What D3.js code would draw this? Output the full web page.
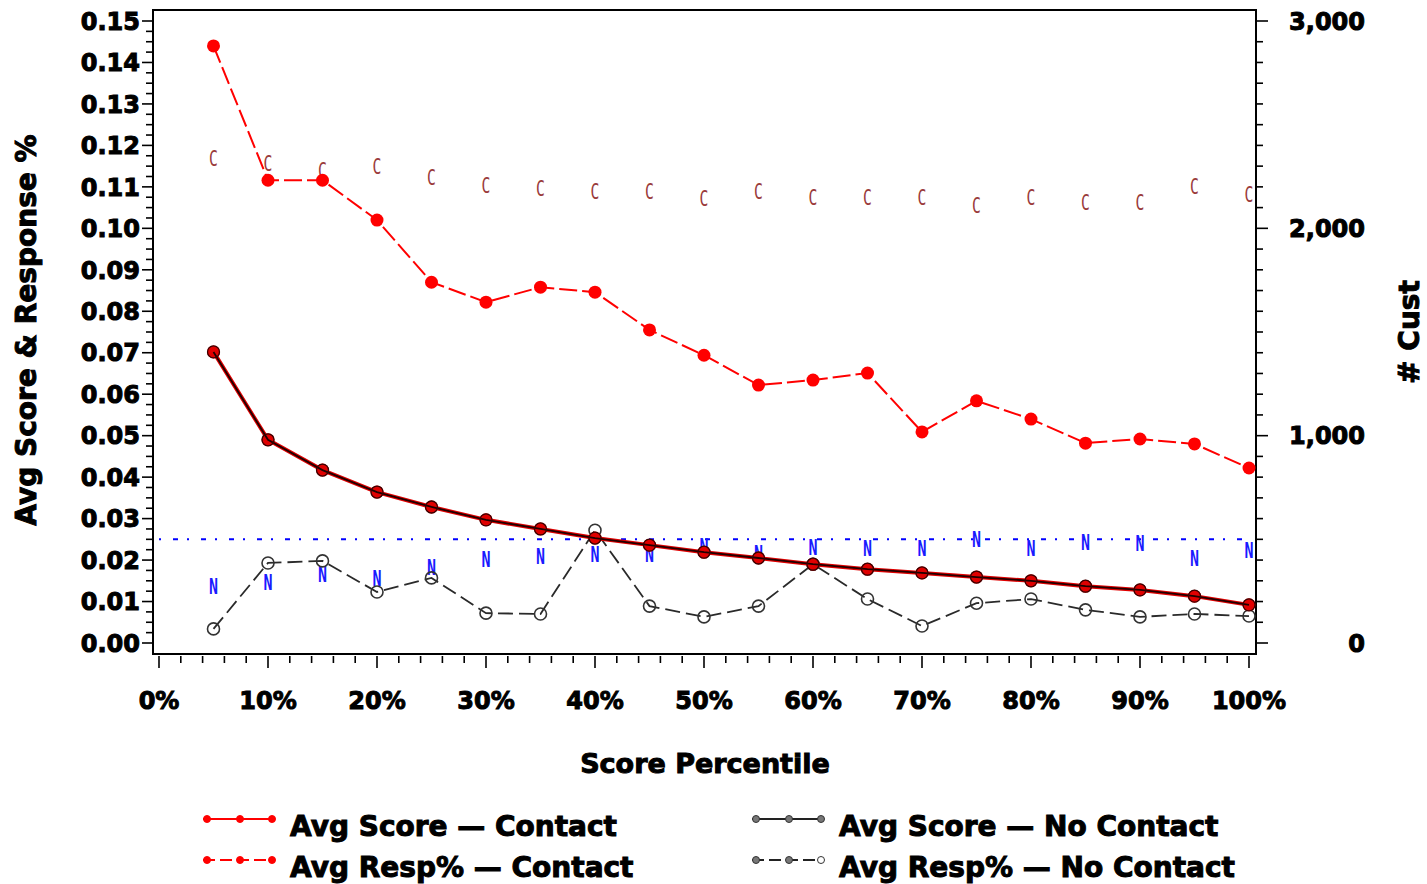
<!DOCTYPE html>
<html>
<head>
<meta charset="utf-8">
<script src="https://cdn.jsdelivr.net/npm/d3@7/dist/d3.min.js"></script>
<style>
  html, body { margin: 0; padding: 0; background: #fff; }
  svg { display: block; }
  .lbl { font-family: "DejaVu Sans", sans-serif; font-weight: bold; fill: #000; stroke: #000; stroke-width: 1px; }
</style>
</head>
<body>
<svg id="chart" width="1427" height="884"></svg>
<script>
// Score percentile bins
const percentile = [5, 10, 15, 20, 25, 30, 35, 40, 45, 50, 55, 60, 65, 70, 75, 80, 85, 90, 95, 100];

// Average model score per bin (contacted and non-contacted groups)
const avgScoreContact   = [0.0702, 0.0490, 0.0417, 0.0364, 0.0328, 0.0297, 0.0275, 0.0253, 0.0236, 0.0219,
                           0.0205, 0.0190, 0.0178, 0.0169, 0.0159, 0.0150, 0.0137, 0.0128, 0.0113, 0.0092];
const avgScoreNoContact = [0.0702, 0.0490, 0.0417, 0.0364, 0.0328, 0.0297, 0.0275, 0.0253, 0.0236, 0.0219,
                           0.0205, 0.0190, 0.0178, 0.0169, 0.0159, 0.0150, 0.0137, 0.0128, 0.0113, 0.0092];

// Average response rate per bin
const avgRespContact   = [0.1440, 0.1116, 0.1116, 0.1020, 0.0870, 0.0822, 0.0858, 0.0846, 0.0755, 0.0694,
                          0.0622, 0.0634, 0.0651, 0.0509, 0.0584, 0.0540, 0.0482, 0.0492, 0.0480, 0.0422];
const avgRespNoContact = [0.0034, 0.0193, 0.0198, 0.0123, 0.0157, 0.0072, 0.0070, 0.0272, 0.0089, 0.0063,
                          0.0089, 0.0190, 0.0106, 0.0041, 0.0096, 0.0106, 0.0080, 0.0063, 0.0070, 0.0065];

// Customer counts per bin (right axis)
const custContact   = [2335, 2315, 2277, 2296, 2243, 2205, 2190, 2180, 2180, 2142,
                       2176, 2147, 2151, 2151, 2108, 2151, 2123, 2127, 2200, 2161];
const custNoContact = [275, 295, 333, 314, 367, 405, 420, 430, 430, 468,
                       434, 463, 459, 459, 502, 459, 487, 483, 410, 449];

// Horizontal reference level
const refLevel = 0.025;

// Axis ticks
const xTicks = [0, 10, 20, 30, 40, 50, 60, 70, 80, 90, 100];
const yTicks = [0, 0.01, 0.02, 0.03, 0.04, 0.05, 0.06, 0.07, 0.08, 0.09, 0.10, 0.11, 0.12, 0.13, 0.14, 0.15];
const y2Ticks = [0, 1000, 2000, 3000];

const svg = d3.select("#chart");

const frame = { left: 153, right: 1256, top: 10, bottom: 654 };
const x  = d3.scaleLinear().domain([0, 100]).range([159, 1249]);
const y  = d3.scaleLinear().domain([0, 0.15]).range([643, 21]);
const y2 = d3.scaleLinear().domain([0, 3000]).range([643, 21]);

// Plot frame
svg.append("rect")
  .attr("x", frame.left).attr("y", frame.top)
  .attr("width", frame.right - frame.left).attr("height", frame.bottom - frame.top)
  .attr("fill", "none").attr("stroke", "#000").attr("stroke-width", 2);

// Left axis ticks (major every 0.01, minor every 0.0025)
const yMinor = d3.range(0, 0.1501, 0.0025);
svg.append("g").selectAll("line").data(yMinor).join("line")
  .attr("x1", frame.left).attr("x2", (d, i) => i % 4 === 0 ? frame.left - 11 : frame.left - 7)
  .attr("y1", d => y(d)).attr("y2", d => y(d))
  .attr("stroke", "#000").attr("stroke-width", 1.6);
svg.append("g").selectAll("text").data(yTicks).join("text")
  .attr("class", "lbl")
  .attr("x", 140).attr("y", d => y(d) + 8.7)
  .attr("text-anchor", "end").attr("font-size", 24)
  .text(d => d3.format(".2f")(d));

// Right axis ticks (major every 1000, minor every 100)
const y2Minor = d3.range(0, 3001, 100);
svg.append("g").selectAll("line").data(y2Minor).join("line")
  .attr("x1", frame.right).attr("x2", (d, i) => i % 10 === 0 ? frame.right + 12 : frame.right + 7)
  .attr("y1", d => y2(d)).attr("y2", d => y2(d))
  .attr("stroke", "#000").attr("stroke-width", 1.6);
svg.append("g").selectAll("text").data(y2Ticks).join("text")
  .attr("class", "lbl")
  .attr("x", 1365).attr("y", d => y2(d) + 8.7)
  .attr("text-anchor", "end").attr("font-size", 24)
  .text(d => d3.format(",")(d));

// Bottom axis ticks (major every 10%, minor every 2%)
const xMinor = d3.range(0, 100.1, 2);
svg.append("g").selectAll("line").data(xMinor).join("line")
  .attr("x1", d => x(d)).attr("x2", d => x(d))
  .attr("y1", frame.bottom + 2).attr("y2", (d, i) => i % 5 === 0 ? frame.bottom + 14 : frame.bottom + 9)
  .attr("stroke", "#000").attr("stroke-width", 1.6);
svg.append("g").selectAll("text").data(xTicks).join("text")
  .attr("class", "lbl")
  .attr("x", d => x(d)).attr("y", 709)
  .attr("text-anchor", "middle").attr("font-size", 24)
  .text(d => d + "%");

// Axis titles
svg.append("text").attr("class", "lbl")
  .attr("transform", "translate(36,330) rotate(-90)")
  .attr("text-anchor", "middle").attr("font-size", 28)
  .text("Avg Score & Response %");
svg.append("text").attr("class", "lbl")
  .attr("transform", "translate(1419,332) rotate(-90)")
  .attr("text-anchor", "middle").attr("font-size", 28)
  .text("# Cust");
svg.append("text").attr("class", "lbl")
  .attr("x", 705).attr("y", 773)
  .attr("text-anchor", "middle").attr("font-size", 27)
  .text("Score Percentile");

// Reference line
svg.append("line")
  .attr("x1", x(0)).attr("x2", x(100))
  .attr("y1", y(refLevel)).attr("y2", y(refLevel))
  .attr("stroke", "#0000ff").attr("stroke-width", 2)
  .attr("stroke-dasharray", "2,12,5,9");

// Customer counts as letter symbols
const counts = svg.append("g");
counts.selectAll("text.c").data(percentile).join("text")
  .attr("class", "c")
  .attr("transform", (d, i) => `translate(${x(d)},${y2(custContact[i]) + 7.5}) scale(0.7,1)`)
  .attr("text-anchor", "middle")
  .attr("font-family", "DejaVu Sans Mono, monospace").attr("font-size", 21)
  .attr("fill", "#9a3b3b")
  .text("C");
counts.selectAll("text.n").data(percentile).join("text")
  .attr("class", "n")
  .attr("transform", (d, i) => `translate(${x(d)},${y2(custNoContact[i]) + 8}) scale(0.68,1)`)
  .attr("text-anchor", "middle")
  .attr("font-family", "DejaVu Sans Mono, monospace").attr("font-size", 22)
  .attr("font-weight", "bold")
  .attr("fill", "#1a1aff")
  .text("N");

const line = arr => d3.line().x((d, i) => x(percentile[i])).y(d => y(d))(arr);

// Avg Resp% — No Contact
svg.append("path").attr("d", line(avgRespNoContact))
  .attr("fill", "none").attr("stroke", "#2a2a2a").attr("stroke-width", 1.8)
  .attr("stroke-dasharray", "15,6");
svg.append("g").selectAll("circle").data(avgRespNoContact).join("circle")
  .attr("cx", (d, i) => x(percentile[i])).attr("cy", d => y(d)).attr("r", 6)
  .attr("fill", "none").attr("stroke", "#333").attr("stroke-width", 1.6);

// Avg Resp% — Contact
svg.append("path").attr("d", line(avgRespContact))
  .attr("fill", "none").attr("stroke", "#ff0000").attr("stroke-width", 2)
  .attr("stroke-dasharray", "18,5");
svg.append("g").selectAll("circle").data(avgRespContact).join("circle")
  .attr("cx", (d, i) => x(percentile[i])).attr("cy", d => y(d)).attr("r", 6.5)
  .attr("fill", "#ff0000");

// Avg Score — Contact
svg.append("path").attr("d", line(avgScoreContact))
  .attr("fill", "none").attr("stroke", "#e00000").attr("stroke-width", 4);
svg.append("g").selectAll("circle").data(avgScoreContact).join("circle")
  .attr("cx", (d, i) => x(percentile[i])).attr("cy", d => y(d)).attr("r", 6.5)
  .attr("fill", "#e00000");

// Avg Score — No Contact
svg.append("path").attr("d", line(avgScoreNoContact))
  .attr("fill", "none").attr("stroke", "#200000").attr("stroke-width", 1.8);
svg.append("g").selectAll("circle").data(avgScoreNoContact).join("circle")
  .attr("cx", (d, i) => x(percentile[i])).attr("cy", d => y(d)).attr("r", 6)
  .attr("fill", "none").attr("stroke", "#3a0000").attr("stroke-width", 1.3);

// Legend
const legendItems = [
  { label: "Avg Score \u2014 Contact",    color: "#ff0000", dash: null,   x0: 203, y0: 819, dot: "#ff0000", open: false },
  { label: "Avg Resp% \u2014 Contact",    color: "#ff0000", dash: "12,5", x0: 203, y0: 860, dot: "#ff0000", open: false },
  { label: "Avg Score \u2014 No Contact", color: "#222",    dash: null,   x0: 752, y0: 819, dot: "#777",    open: false },
  { label: "Avg Resp% \u2014 No Contact", color: "#222",    dash: "12,5", x0: 752, y0: 860, dot: "#777",    open: true }
];
const lg = svg.append("g").selectAll("g").data(legendItems).join("g");
lg.append("line")
  .attr("x1", d => d.x0).attr("x2", d => d.x0 + 72)
  .attr("y1", d => d.y0).attr("y2", d => d.y0)
  .attr("stroke", d => d.color).attr("stroke-width", 2)
  .attr("stroke-dasharray", d => d.dash);
lg.each(function(d) {
  const g = d3.select(this);
  [4, 37, 69].forEach((dx, k) => {
    g.append("circle")
      .attr("cx", d.x0 + dx).attr("cy", d.y0).attr("r", 3.5)
      .attr("fill", d.open && k === 2 ? "#fff" : d.dot)
      .attr("stroke", d.color === "#ff0000" ? "#ff0000" : "#333").attr("stroke-width", 1);
  });
});
lg.append("text").attr("class", "lbl")
  .attr("x", d => d.x0 + 87).attr("y", d => d.y0 + 17)
  .attr("font-size", 28)
  .text(d => d.label);
</script>
</body>
</html>
